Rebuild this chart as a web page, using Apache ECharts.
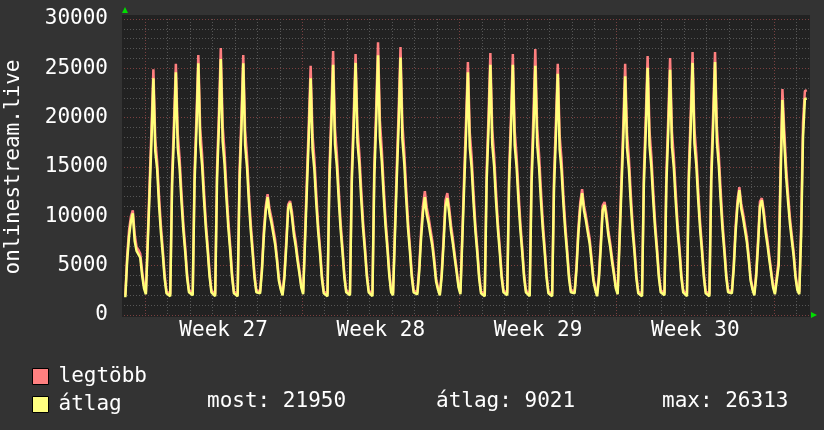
<!DOCTYPE html>
<html>
<head>
<meta charset="utf-8">
<title>onlinestream.live</title>
<script src="https://cdn.jsdelivr.net/npm/echarts@6/dist/echarts.min.js"></script>
<style>
  html, body { margin: 0; padding: 0; background: #333333; }
  #chart { width: 824px; height: 430px; }
</style>
</head>
<body>
<div id="chart"></div>
<script>
// samples every 2 hours, hour 0 = Monday 00:00 of week 27
var startHour = -21;
var stepHours = 2;
var axisMinHour = -22.4;
var axisMaxHour = 709.4;

// átlag (average), one row per day
var avgValues = [
    1800, 5500, 8000, 9500, 10300, 7500, 6500, 6300, 5800, 4000, 2700,                 // Sun wk26 (partial)
    2100, 1900, 12500, 17800, 24000, 16600, 14800, 11200, 8400, 6200, 3700, 2200,      // Mon wk27
    2000, 1900, 13200, 18300, 24600, 17000, 14900, 11500, 8600, 6400, 3800, 2300,
    2100, 2000, 13500, 18800, 25500, 17400, 15200, 11800, 8800, 6500, 3900, 2300,
    2100, 1900, 13800, 19100, 25950, 17600, 15300, 11900, 8900, 6600, 3900, 2200,
    2000, 1900, 13400, 18700, 25500, 17200, 15000, 11500, 8600, 6300, 3800, 2300,
    2500, 2200, 4500, 8000, 10500, 11950, 10300, 9400, 8300, 7200, 5500, 3500,         // Sat
    2600, 2000, 3800, 7000, 10800, 11350, 10000, 8200, 7000, 5500, 4200, 2800,         // Sun
    2100, 1900, 12800, 18000, 24000, 16800, 14700, 11300, 8500, 6300, 3700, 2200,      // Mon wk28
    2000, 1900, 13400, 18900, 25350, 17300, 15100, 11700, 8700, 6400, 3800, 2300,
    2100, 2000, 13600, 19000, 25550, 17500, 15300, 11800, 8800, 6500, 3900, 2300,
    2100, 1900, 14000, 19500, 26313, 18000, 15600, 12100, 9000, 6700, 4000, 2300,
    2000, 1900, 13800, 19200, 26100, 17800, 15400, 11900, 8800, 6500, 3900, 2300,
    2500, 2100, 4400, 7800, 10400, 11950, 10200, 9300, 8100, 7000, 5300, 3400,
    2600, 2000, 3900, 7200, 11000, 11850, 10300, 8500, 7200, 5700, 4300, 2800,
    2100, 1900, 13000, 18300, 24600, 17000, 14900, 11400, 8500, 6300, 3700, 2200,      // Mon wk29
    2000, 1900, 13500, 18800, 25350, 17300, 15100, 11600, 8700, 6400, 3800, 2300,
    2100, 2000, 13400, 18700, 25350, 17200, 15000, 11600, 8700, 6400, 3800, 2300,
    2100, 1900, 13300, 18600, 25250, 17300, 15000, 11600, 8700, 6400, 3800, 2200,
    2000, 1900, 12900, 18100, 24450, 16800, 14700, 11300, 8500, 6200, 3700, 2300,
    2500, 2200, 4600, 8200, 10800, 12350, 10600, 9600, 8400, 7300, 5500, 3500,
    2600, 1900, 3700, 6900, 10600, 11150, 9800, 8100, 6900, 5400, 4100, 2700,
    2100, 1900, 12700, 17900, 24200, 16900, 14800, 11300, 8500, 6300, 3700, 2200,      // Mon wk30
    2000, 1900, 13300, 18600, 25050, 17200, 15000, 11600, 8700, 6400, 3800, 2300,
    2100, 2000, 13200, 18500, 24850, 17100, 14900, 11500, 8600, 6400, 3800, 2300,
    2100, 1900, 13600, 18900, 25550, 17400, 15200, 11700, 8800, 6500, 3900, 2200,
    2000, 1900, 13600, 19000, 25650, 17500, 15200, 11700, 8700, 6400, 3800, 2300,
    2500, 2200, 4700, 8400, 11100, 12650, 10800, 9800, 8600, 7400, 5600, 3500,
    2600, 2000, 3900, 7100, 11000, 11650, 10200, 8400, 7100, 5600, 4200, 2800,
    2100, 2000, 5000, 13500, 21800, 17500, 14000, 11500, 9300, 7600, 6000, 3800,       // Mon wk31
    2500, 2100, 8000, 18000, 21900, 21950                                              // Tue wk31 (partial)
];

// legtöbb (maximum)
var maxValues = [
    2000, 6000, 8600, 10000, 10600, 8200, 6900, 6600, 6200, 4400, 3000,
    2300, 2100, 13500, 19000, 24900, 17800, 15600, 12100, 9100, 6700, 4100, 2400,
    2200, 2100, 14300, 19600, 25450, 18400, 15900, 12400, 9300, 6900, 4200, 2500,
    2300, 2200, 14600, 20100, 26350, 18900, 16300, 12700, 9500, 7000, 4300, 2500,
    2300, 2100, 14900, 20500, 27050, 19200, 16500, 12900, 9700, 7100, 4300, 2400,
    2200, 2100, 14500, 20000, 26350, 18700, 16100, 12400, 9300, 6800, 4200, 2500,
    2700, 2400, 4900, 8600, 11000, 12250, 10800, 9900, 8800, 7700, 5900, 3800,
    2800, 2200, 4200, 7600, 11200, 11550, 10500, 8700, 7500, 5900, 4500, 3000,
    2300, 2100, 13900, 19400, 25250, 18300, 15800, 12300, 9200, 6800, 4100, 2400,
    2200, 2100, 14600, 20300, 26750, 18900, 16300, 12700, 9400, 6900, 4200, 2500,
    2300, 2200, 14700, 20400, 26450, 19000, 16400, 12800, 9500, 7000, 4300, 2500,
    2300, 2100, 15200, 21000, 27650, 19700, 16800, 13100, 9800, 7200, 4400, 2500,
    2200, 2100, 15000, 20700, 27150, 19400, 16600, 12900, 9600, 7000, 4300, 2500,
    2700, 2300, 4900, 8500, 11100, 12550, 10900, 9900, 8700, 7500, 5800, 3700,
    2800, 2200, 4300, 7800, 11600, 12350, 10900, 9100, 7700, 6100, 4600, 3000,
    2300, 2100, 14100, 19700, 25650, 18500, 16000, 12400, 9200, 6800, 4100, 2400,
    2200, 2100, 14600, 20200, 26550, 18800, 16200, 12600, 9400, 6900, 4200, 2500,
    2300, 2200, 14500, 20100, 26450, 18700, 16100, 12600, 9400, 6900, 4200, 2500,
    2300, 2100, 14600, 20300, 26950, 19000, 16300, 12700, 9500, 6900, 4200, 2400,
    2200, 2100, 14000, 19500, 25450, 18200, 15800, 12200, 9200, 6700, 4100, 2500,
    2700, 2400, 5000, 8800, 11400, 12750, 11100, 10100, 8900, 7800, 5900, 3800,
    2800, 2100, 4100, 7500, 11100, 11450, 10300, 8600, 7300, 5800, 4400, 2900,
    2300, 2100, 13800, 19300, 25450, 18400, 15900, 12300, 9200, 6800, 4100, 2400,
    2200, 2100, 14400, 20000, 26250, 18700, 16100, 12600, 9400, 6900, 4200, 2500,
    2300, 2200, 14300, 19900, 26050, 18600, 16000, 12500, 9300, 6900, 4200, 2500,
    2300, 2100, 14700, 20300, 26650, 18900, 16300, 12700, 9500, 7000, 4300, 2400,
    2200, 2100, 14700, 20400, 26650, 19000, 16300, 12700, 9400, 6900, 4200, 2500,
    2700, 2400, 5100, 9000, 11600, 12950, 11300, 10300, 9100, 7900, 6000, 3800,
    2800, 2200, 4300, 7700, 11500, 11850, 10700, 8900, 7600, 6000, 4500, 3000,
    2300, 2200, 5600, 14800, 22900, 18700, 15000, 12300, 9900, 8100, 6400, 4100,
    2700, 2300, 9000, 19500, 22700, 22800
];

var weekLabels = ['Week 27', 'Week 28', 'Week 29', 'Week 30'];
var weekLabelHours = [84, 252, 420, 588];
var weekStartHours = [0, 168, 336, 504, 672];
var statLabels = ['most: 21950', 'átlag: 9021', 'max: 26313'];
var statLeft = [207, 436, 662];

var FONT = 'DejaVu Sans Mono';

function renderRrdChart(chartDivId) {
    var chart = echarts.init(document.getElementById(chartDivId));

    var avgData = [], maxData = [];
    for (var i = 0; i < avgValues.length; i++) {
        avgData.push([startHour + i * stepHours, avgValues[i]]);
        maxData.push([startHour + i * stepHours, maxValues[i]]);
    }
    var dayHours = [];
    for (var d = 0; d * 24 < axisMaxHour; d++) {
        dayHours.push(d * 24);
    }

    var graphics = [
        { type: 'rect', z: -10, shape: { x: 122, y: 15, width: 688, height: 302 }, style: { fill: '#222222' } },
        { type: 'polygon', shape: { points: [[122, 13], [128, 13], [125, 7]] }, style: { fill: '#00dd00' } },
        { type: 'polygon', shape: { points: [[811, 312], [811, 318], [817, 315]] }, style: { fill: '#00dd00' } }
    ];
    statLabels.forEach(function (txt, k) {
        graphics.push({
            type: 'text', left: statLeft[k], top: 391,
            style: { text: txt, fill: '#ffffff', font: '21px "' + FONT + '"' }
        });
    });

    var options = {
        backgroundColor: '#333333',
        animation: false,
        textStyle: { fontFamily: FONT },
        grid: { left: 124, right: 15, top: 19, bottom: 115, outerBoundsMode: 'none', containLabel: false },
        legend: {
            orient: 'vertical',
            left: 27,
            top: 361,
            icon: 'rect',
            itemWidth: 16,
            itemHeight: 16,
            itemGap: 7,
            data: ['legtöbb', 'átlag'],
            textStyle: { color: '#ffffff', fontSize: 21, fontFamily: FONT, padding: [0, 0, 0, 5] },
            itemStyle: { borderColor: '#000000', borderWidth: 1 }
        },
        graphic: graphics,
        xAxis: [{
            type: 'value',
            min: axisMinHour,
            max: axisMaxHour,
            axisLine: { show: false },
            axisTick: { show: false, customValues: dayHours },
            splitLine: { show: true, lineStyle: { color: '#565656', width: 1, type: [1, 2] } },
            axisLabel: {
                customValues: weekLabelHours,
                color: '#ffffff',
                fontSize: 21,
                fontFamily: FONT,
                margin: 5,
                formatter: function (v) {
                    var idx = weekLabelHours.indexOf(v);
                    return idx >= 0 ? weekLabels[idx] : '';
                }
            }
        }, {
            type: 'value',
            min: axisMinHour,
            max: axisMaxHour,
            axisLine: { show: false },
            axisTick: { show: false, customValues: weekStartHours },
            axisLabel: { show: false },
            splitLine: { show: true, lineStyle: { color: '#7a4040', width: 1, type: [1, 2] } }
        }],
        yAxis: {
            type: 'value',
            min: 0,
            max: 30000,
            interval: 5000,
            name: 'onlinestream.live',
            nameLocation: 'middle',
            nameGap: 100,
            nameRotate: 90,
            nameTextStyle: { color: '#ffffff', fontSize: 21, fontFamily: FONT },
            axisLine: { show: false },
            axisTick: { show: false },
            axisLabel: {
                color: '#ffffff', fontSize: 21, fontFamily: FONT, margin: 16,
                formatter: function (v) { return String(v); }
            },
            splitLine: { show: true, lineStyle: { color: '#7a4040', width: 1, type: [1, 2] } },
            minorTick: { show: false, splitNumber: 5 },
            minorSplitLine: { show: true, lineStyle: { color: '#565656', width: 1, type: [1, 2] } }
        },
        series: [{
            name: 'legtöbb',
            type: 'line',
            data: maxData,
            showSymbol: false,
            color: '#ff8080',
            lineStyle: { color: '#ff7f7f', width: 2.5 },
            itemStyle: { color: '#ff8080' }
        }, {
            name: 'átlag',
            type: 'line',
            data: avgData,
            showSymbol: false,
            color: '#ffff80',
            lineStyle: { color: '#ffff7a', width: 2.5 },
            itemStyle: { color: '#ffff80' }
        }]
    };
    chart.setOption(options);
}

renderRrdChart('chart');
</script>
</body>
</html>
